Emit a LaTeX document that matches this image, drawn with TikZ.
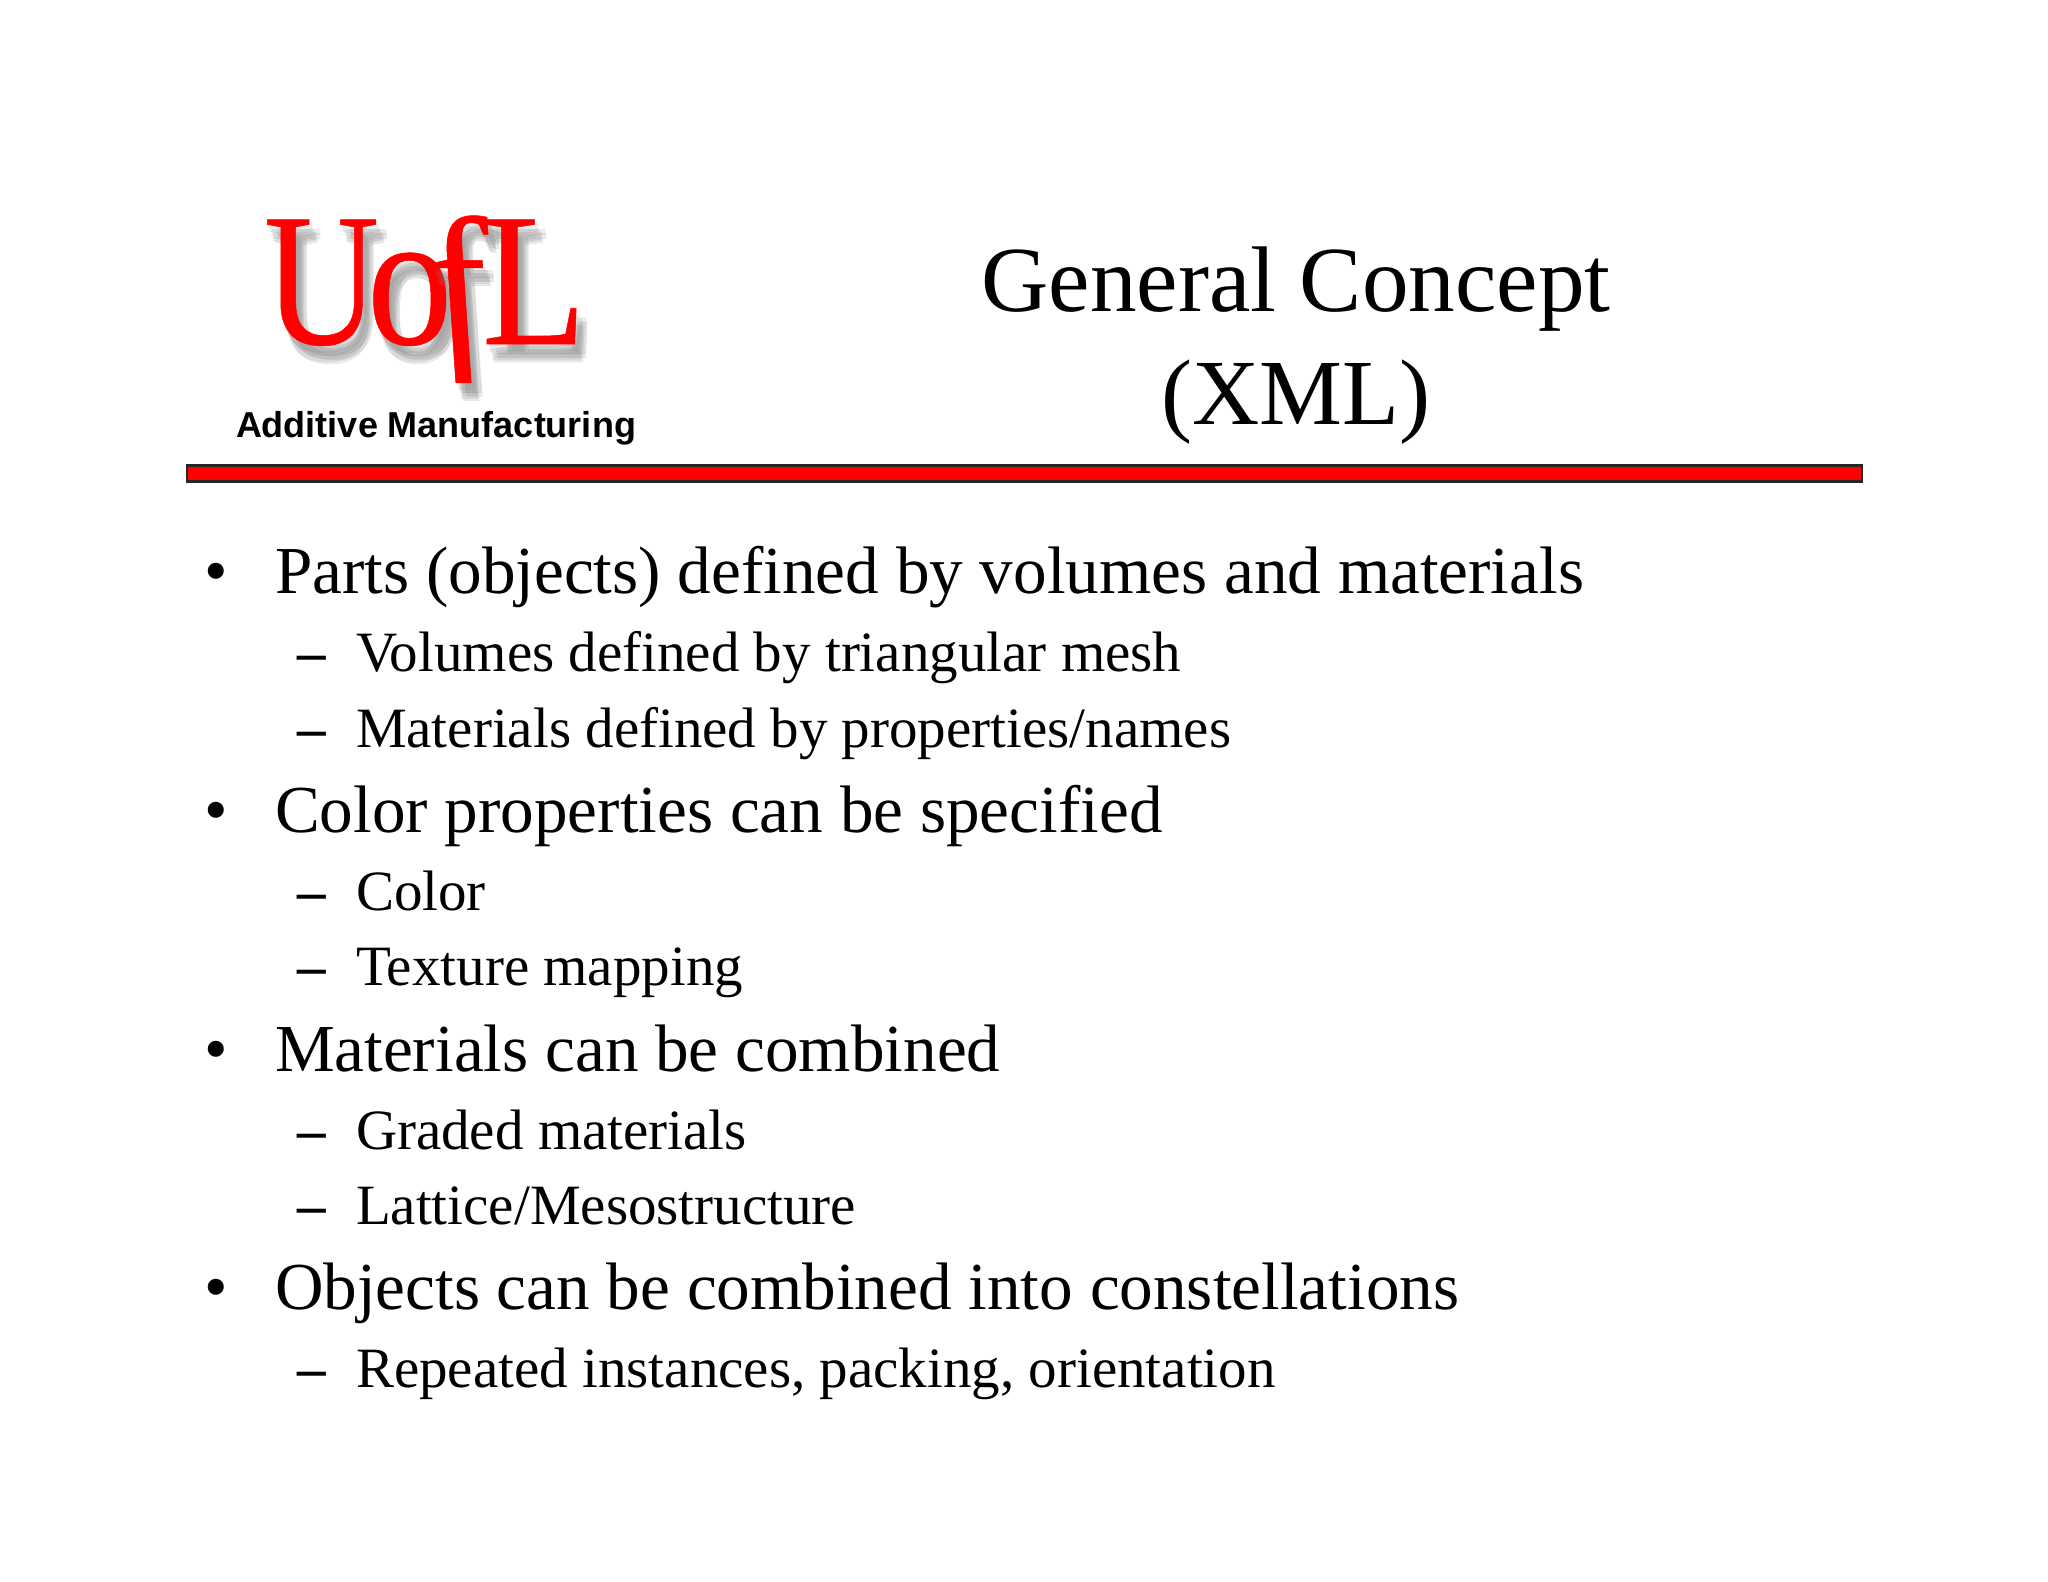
\documentclass[tikz,border=0pt]{standalone}
\usepackage{fontspec}
\setmainfont{Liberation Serif}
\newfontfamily\armfont{Liberation Sans}
\newfontfamily\lgofont[FakeBold=0.3]{Liberation Serif}
\tikzset{
  every node/.style={inner sep=0pt,outer sep=0pt,anchor=base west,text=black},
  ttl/.style={anchor=base,font=\fontsize{93.2}{93}\selectfont},
  lone/.style={font=\fontsize{67.15}{67}\selectfont},
  ltwo/.style={font=\fontsize{57}{57}\selectfont},
  ldash/.style={font=\bfseries\fontsize{57}{57}\selectfont},
  lgored/.style={text=logored},
  lgoshadow/.style={text=black!50,opacity=.14},
}
\definecolor{logored}{RGB}{255,0,0}
\newcommand{\logoletter}[4]{% name, x, options, text
  \foreach \dx/\dy in {3/7,5/10,7/13,10/10,6/16,11/14,8/18}{
    \node[lgoshadow,#3] at (#2+\dx,344+\dy) {#4};
  }
  \node[lgored,#3] (#1) at (#2,344) {#4};
}
\begin{document}
\begin{tikzpicture}[x=1pt,y=-1pt]
\useasboundingbox (0,0) rectangle (2048,1582);
\fill[white] (0,0) rectangle (2048,1582);
\logoletter{lgoU}{264}{xscale=.84}{\fontsize{190}{190}\lgofont U}
\logoletter{lgoO}{367}{xscale=.9,yscale=1.02}{\fontsize{190}{190}\lgofont o}
\logoletter{lgoF}{444}{xslant=-.25,yscale=.96}{\fontsize{190}{190}\lgofont\itshape f}
\logoletter{lgoL}{482}{xscale=.9}{\fontsize{190}{190}\lgofont L}
\node[font=\armfont\bfseries\fontsize{36}{36}\selectfont] (am) at (236,437.5) {Additive Manufacturing};
\node[ttl] (t1) at (1296,311) {General Concept};
\node[ttl] (t2) at (1296,424.5) {(XML)};
\node[draw=black!85,line width=2.2pt,fill=logored,minimum width=1675pt,minimum height=16pt,anchor=north west] (bar) at (187,465.5) {};
\node[lone] (b1) at (204,593.5) {•};
\node[lone] (a1) at (275,593.5) {Parts (objects) defined by volumes and materials};
\node[ldash] (d1) at (297.5,671.5) {–};
\node[ltwo] (a2) at (356,671.5) {Volumes defined by triangular mesh};
\node[ldash] (d2) at (297.5,747.5) {–};
\node[ltwo] (a3) at (356,747.5) {Materials defined by properties/names};
\node[lone] (b2) at (204,832.5) {•};
\node[lone] (a4) at (275,832.5) {Color properties can be specified};
\node[ldash] (d3) at (297.5,910.5) {–};
\node[ltwo] (a5) at (356,910.5) {Color};
\node[ldash] (d4) at (297.5,985.5) {–};
\node[ltwo] (a6) at (356,985.5) {Texture mapping};
\node[lone] (b3) at (204,1071.5) {•};
\node[lone] (a7) at (275,1071.5) {Materials can be combined};
\node[ldash] (d5) at (297.5,1149.5) {–};
\node[ltwo] (a8) at (356,1149.5) {Graded materials};
\node[ldash] (d6) at (297.5,1224.5) {–};
\node[ltwo] (a9) at (356,1224.5) {Lattice/Mesostructure};
\node[lone] (b4) at (204,1309.5) {•};
\node[lone] (a10) at (275,1309.5) {Objects can be combined into constellations};
\node[ldash] (d7) at (297.5,1387.5) {–};
\node[ltwo] (a11) at (356,1387.5) {Repeated instances, packing, orientation};
\end{tikzpicture}
\end{document}
